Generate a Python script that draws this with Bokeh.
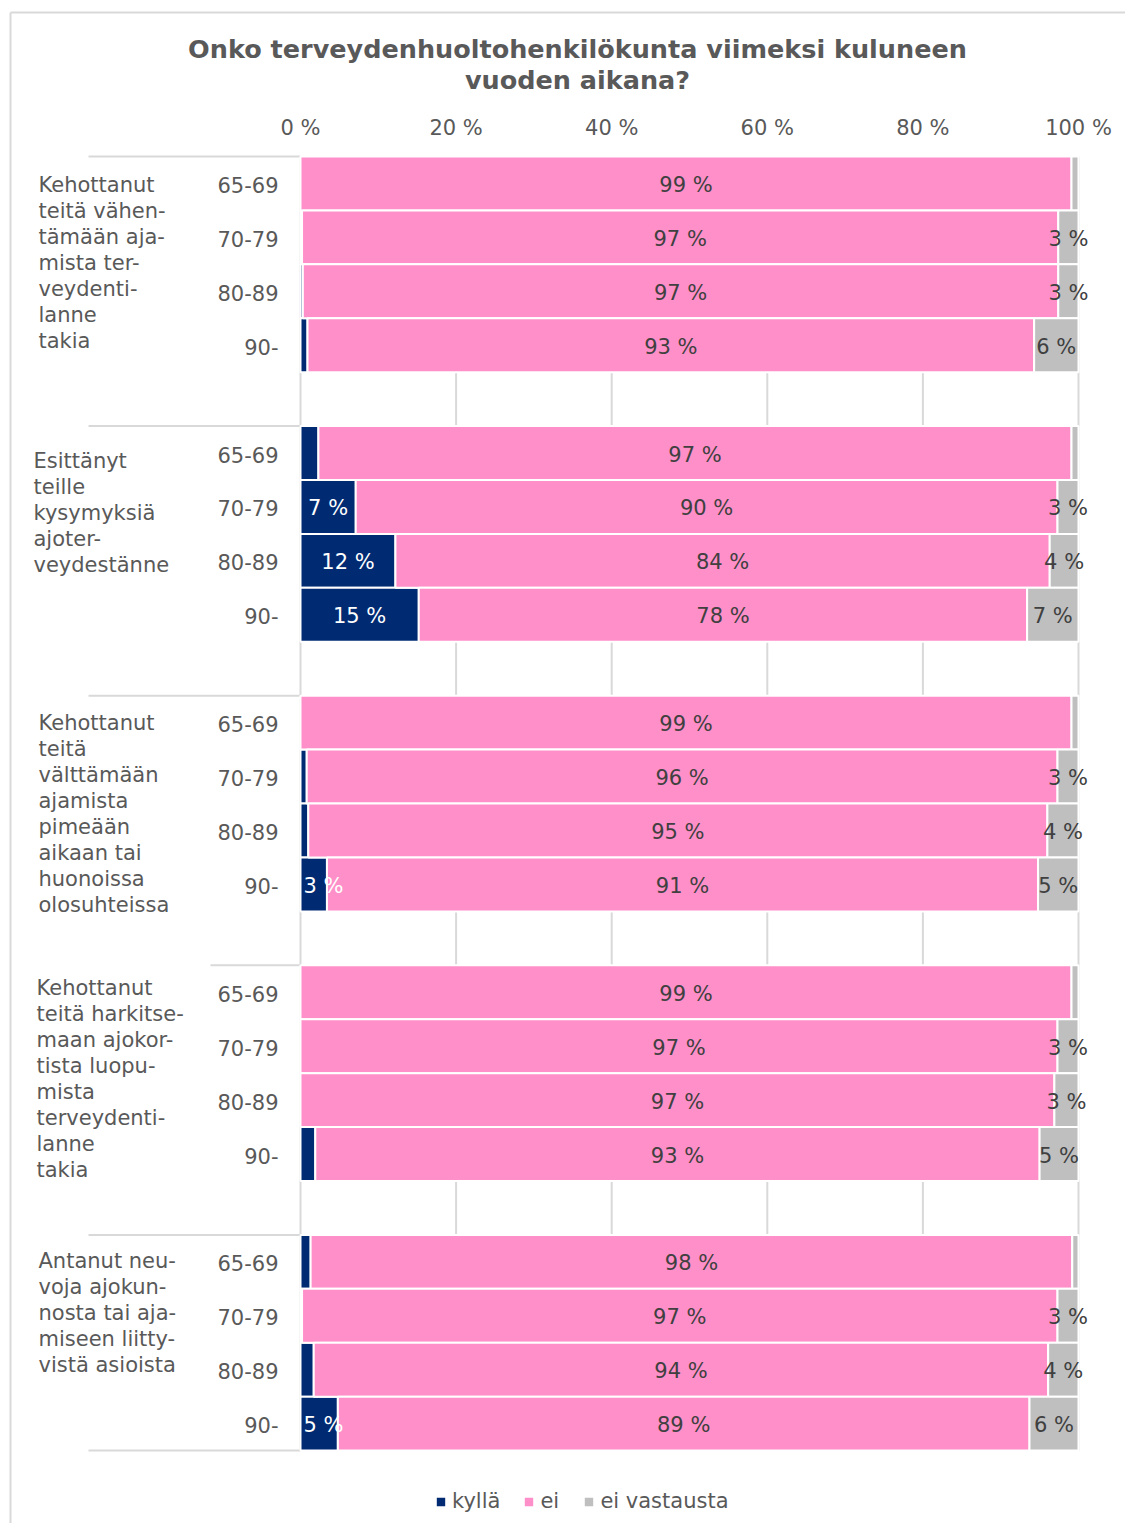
from bokeh.plotting import figure
from bokeh.models import Range1d, ColumnDataSource, Legend, LegendItem
from bokeh.core.properties import value
from bokeh.embed import file_html
from bokeh.resources import INLINE

# ---------------- data ----------------
title_lines = ["Onko terveydenhuoltohenkilökunta viimeksi kuluneen", "vuoden aikana?"]
groups = [
    "Kehottanut\nteitä vähen-\ntämään aja-\nmista ter-\nveydenti-\nlanne\ntakia",
    "Esittänyt\nteille\nkysymyksiä\najoter-\nveydestänne",
    "Kehottanut\nteitä\nvälttämään\najamista\npimeään\naikaan tai\nhuonoissa\nolosuhteissa",
    "Kehottanut\nteitä harkitse-\nmaan ajokor-\ntista luopu-\nmista\nterveydenti-\nlanne\ntakia",
    "Antanut neu-\nvoja ajokun-\nnosta tai aja-\nmiseen liitty-\nvistä asioista",
]
ages = ["65-69", "70-79", "80-89", "90-"]
series = ["kyllä", "ei", "ei vastausta"]
kylla = [
    [0.0, 0.2, 0.3, 0.9],
    [2.3, 7.1, 12.2, 15.2],
    [0.0, 0.8, 1.0, 3.4],
    [0.0, 0.0, 0.0, 1.9],
    [1.3, 0.2, 1.7, 4.8],
]
ei = [
    [99.1, 97.2, 97.1, 93.4],
    [96.8, 90.2, 84.1, 78.2],
    [99.1, 96.5, 95.0, 91.4],
    [99.1, 97.3, 96.9, 93.1],
    [97.9, 97.1, 94.4, 88.9],
]
ei_vastausta = [
    [0.9, 2.6, 2.6, 5.7],
    [0.9, 2.7, 3.7, 6.6],
    [0.9, 2.7, 4.0, 5.2],
    [0.9, 2.7, 3.1, 5.0],
    [0.8, 2.7, 3.9, 6.3],
]
tick_values = [0, 20, 40, 60, 80, 100]
tick_labels = ["0 %", "20 %", "40 %", "60 %", "80 %", "100 %"]

# ---------------- styles / layout ----------------
colors = ["#002b73", "#ff8fc8", "#bfbfbf"]
label_colors = ["white", "#404040", "#404040"]
text_gray = "#595959"
line_gray = "#d9d9d9"
FONT = "DejaVu Sans"
FS = "21px"
W, H = 1125, 1523
PX_X = 7.78          # pixels per percent
PX_Y = 53.92         # pixels per bar slot
X0_PX, Y0_PX = 300, 156   # pixel position of 0 % / first slot
slots_per_group = len(ages) + 1
n_slots = len(groups) * slots_per_group - 1

def dx(px):
    return (px - X0_PX) / PX_X

def dy(px):
    return (px - Y0_PX) / PX_Y

text_shift = 1.5 / PX_Y   # small downward nudge for in-bar / category texts
group_label_x = [dx(38), dx(33), dx(38), dx(36), dx(38)]
group_label_top = [0.52, 0.65, 0.50, 0.43, 0.48]
line_step = 26 / PX_Y
sep_start = [dx(88), dx(88), dx(88), dx(210), dx(88), dx(88)]

# ---------------- build sources ----------------
ys, k_, e_, v_ = [], [], [], []
for g in range(len(groups)):
    for a in range(len(ages)):
        ys.append(g * slots_per_group + a + 0.5)
        k_.append(kylla[g][a]); e_.append(ei[g][a]); v_.append(ei_vastausta[g][a])
src = ColumnDataSource(dict(y=ys, kylla=k_, ei=e_, ev=v_))

p = figure(width=W, height=H, output_backend="svg", toolbar_location=None,
           x_range=Range1d(dx(0), dx(W)), y_range=Range1d(dy(H), dy(0)),
           min_border=0, x_axis_location=None, y_axis_location=None)
p.outline_line_color = None
p.background_fill_color = "white"
p.xgrid.grid_line_color = None
p.ygrid.grid_line_color = None

# chart-area border (left and top edges visible in the picture)
p.segment(x0=[dx(10), dx(10)], x1=[dx(10), dx(W + 20)], y0=[dy(12), dy(12)], y1=[dy(H + 20), dy(12)],
          line_color=line_gray, line_width=2)

# title
p.text(x=[dx(577)] * 2, y=[dy(48), dy(79)], text=title_lines, text_color=text_gray,
       text_align="center", text_baseline="middle", text_font=value(FONT),
       text_font_size="25.5px", text_font_style="bold")

# top tick labels
p.text(x=tick_values, y=[dy(127)] * len(tick_values), text=tick_labels, text_color=text_gray,
       text_align="center", text_baseline="middle", text_font=value(FONT), text_font_size=FS)

# vertical gridlines across the bar area
p.segment(x0=tick_values, x1=tick_values, y0=[0] * len(tick_values), y1=[n_slots] * len(tick_values),
          line_color=line_gray, line_width=2)

# separators on the category area
sep_y = [g * slots_per_group for g in range(len(groups))] + [n_slots]
p.segment(x0=sep_start, x1=[0] * len(sep_y), y0=sep_y, y1=sep_y, line_color=line_gray, line_width=2)

rends = p.hbar_stack(["kylla", "ei", "ev"], y="y", height=1.0, color=colors, source=src,
                     line_color="white", line_width=2)

# value labels
cx, cy, ct, cc = [], [], [], []
lx, ly, lt, lc = [], [], [], []
for i in range(len(ys)):
    vals = [k_[i], e_[i], v_[i]]
    left = 0.0
    for s, vv in enumerate(vals):
        if round(vv) >= 3:
            txt = f"{round(vv)} %"
            if s == 0 and vv < 6:
                lx.append(dx(303)); ly.append(ys[i] + text_shift); lt.append(txt); lc.append(label_colors[s])
            else:
                cx.append(left + vv / 2); cy.append(ys[i] + text_shift); ct.append(txt); cc.append(label_colors[s])
        left += vv
p.text(x=cx, y=cy, text=ct, text_color=cc, text_align="center", text_baseline="middle",
       text_font=value(FONT), text_font_size=FS)
p.text(x=lx, y=ly, text=lt, text_color=lc, text_align="left", text_baseline="middle",
       text_font=value(FONT), text_font_size=FS)

# age labels
p.text(x=[dx(278)] * len(ys), y=[y + text_shift for y in ys], text=ages * len(groups), text_color=text_gray,
       text_align="right", text_baseline="middle", text_font=value(FONT), text_font_size=FS)

# group labels
gx, gy, gt = [], [], []
for g, lab in enumerate(groups):
    for j, line in enumerate(lab.split("\n")):
        gx.append(group_label_x[g]); gy.append(g * slots_per_group + group_label_top[g] + j * line_step); gt.append(line)
p.text(x=gx, y=gy, text=gt, text_color=text_gray, text_align="left", text_baseline="middle",
       text_font=value(FONT), text_font_size=FS)

legend = Legend(items=[LegendItem(label=s, renderers=[r]) for s, r in zip(series, rends)],
                orientation="horizontal", location=(434, 10), margin=0, padding=4,
                glyph_width=13, glyph_height=13, label_standoff=5, spacing=22,
                label_text_font=FONT, label_text_font_size=FS, label_text_color=text_gray,
                border_line_color=None, background_fill_alpha=0)
p.add_layout(legend)

open("out.html", "w").write(file_html(p, INLINE))
